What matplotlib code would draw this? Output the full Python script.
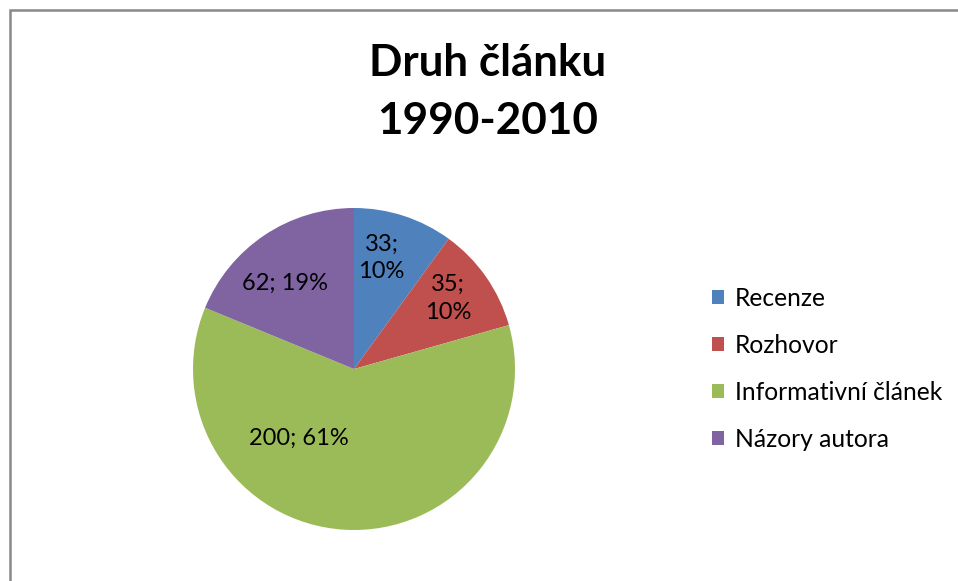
import matplotlib
matplotlib.use("Agg")
import matplotlib.pyplot as plt
import numpy as np
from matplotlib.patches import Rectangle, Patch

plt.rcParams['font.family'] = ['Lato', 'DejaVu Sans']

categories = ['Recenze', 'Rozhovor', 'Informativní článek', 'Názory autora']
values = [33, 35, 200, 62]
percents = [10, 10, 61, 19]  # as printed on the chart
colors = ['#4F81BD', '#C0504D', '#9BBB59', '#8064A2']
title = 'Druh článku\n1990-2010'

# label placement (angle shift in degrees, radius fraction), Excel "best fit" look
label_shift = [4, 2, -35, 5]
label_radius = [0.71, 0.73, 0.55, 0.68]

fig = plt.figure(figsize=(9.58, 5.81), dpi=100)
fig.patch.set_facecolor('white')

# chart frame
fig.patches.append(Rectangle((9.5 / 958, -0.05), 1.2, 1 - 10.5 / 581 + 0.05,
                             transform=fig.transFigure, fill=False,
                             edgecolor='#888888', linewidth=1.8))

ax = fig.add_axes([(354 - 161) / 958, (212 - 161) / 581, 322 / 958, 322 / 581])
wedges, _ = ax.pie(values, colors=colors, startangle=90, counterclock=False,
                   radius=1, wedgeprops=dict(linewidth=0))
ax.set_xlim(-1, 1)
ax.set_ylim(-1, 1)
ax.set_aspect('equal')
ax.axis('off')

for w, v, pct, sh, r in zip(wedges, values, percents, label_shift, label_radius):
    mid = np.deg2rad((w.theta1 + w.theta2) / 2 + sh)
    txt = f'{v};\n{pct}%' if v < 50 else f'{v}; {pct}%'
    ax.text(r * np.cos(mid), r * np.sin(mid), txt, ha='center', va='center',
            fontsize=17, color='black', linespacing=1.4)

fig.text(488 / 958, 1 - 92 / 581, title, ha='center', va='center',
         fontsize=31.7, fontweight='bold', linespacing=1.52)

handles = [Patch(facecolor=c, edgecolor='none') for c in colors]
fig.legend(handles, categories, loc='center left',
           bbox_to_anchor=(712 / 958, 1 - 369 / 581), frameon=False,
           fontsize=17.7, handlelength=0.5, handleheight=0.5,
           handletextpad=0.42, labelspacing=0.98, borderpad=0,
           borderaxespad=0)

fig.savefig('out.png', dpi=100)
